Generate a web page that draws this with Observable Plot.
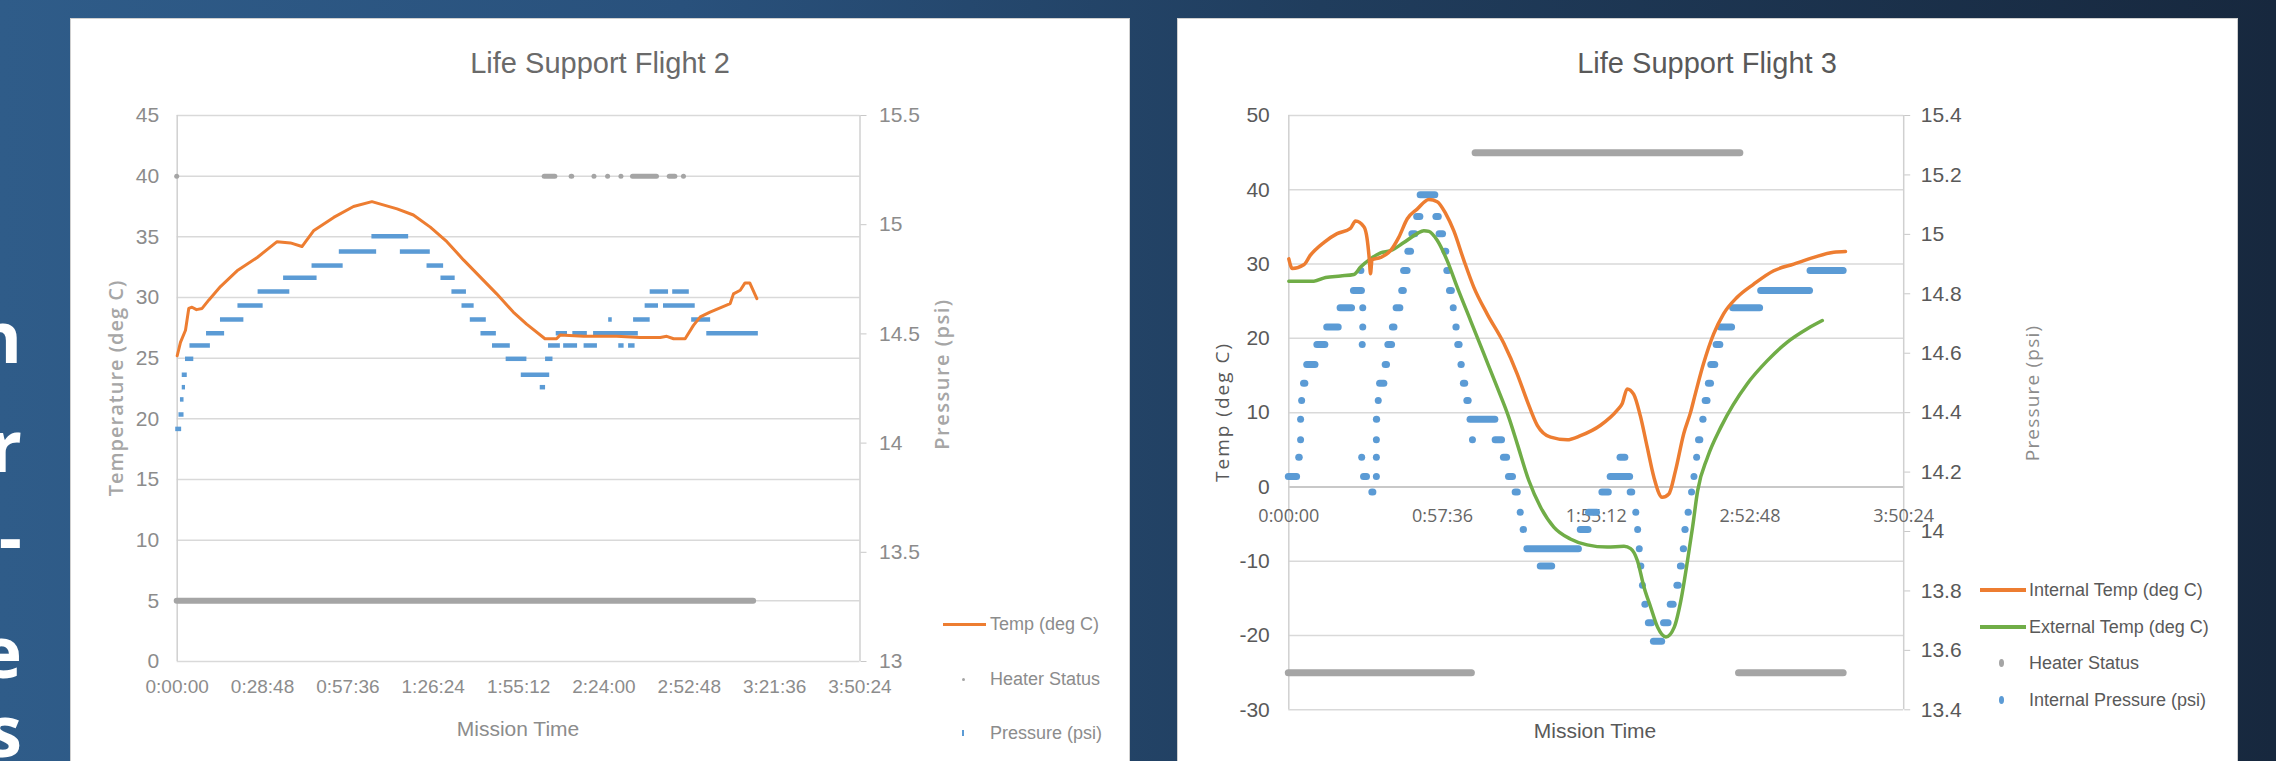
<!DOCTYPE html>
<html><head><meta charset="utf-8">
<script src="https://cdn.jsdelivr.net/npm/d3@7"></script>
<script src="https://cdn.jsdelivr.net/npm/@observablehq/plot@0.6"></script>
<style>
html,body{margin:0;padding:0;}
body{width:2276px;height:761px;overflow:hidden;position:relative;
 background:linear-gradient(90deg,#2f5c89 0%,#29517c 30%,#203d5d 58%,#17283e 100%);
 font-family:"Liberation Sans",Arial,sans-serif;}
.panel{position:absolute;background:#fff;border:1px solid #cfcfcf;box-sizing:border-box;}
.abs{position:absolute;white-space:nowrap;line-height:1;}
.c{transform:translate(-50%,-50%);}
.r{transform:translate(-50%,-50%) rotate(-90deg);}
.l{transform:translateY(-50%);}
.slide{position:absolute;left:-40px;width:62px;text-align:right;color:#fff;font-family:"Open Sans",sans-serif;font-weight:700;font-size:72px;line-height:1;}
.sw{position:absolute;}
</style></head><body>

<div class="slide" style="top:299px">n</div>
<div class="slide" style="top:408px">r</div>
<div class="slide" style="top:499px">-</div>
<div class="slide" style="top:614px">e</div>
<div class="slide" style="top:693px">s</div>

<div class="panel" style="left:70px;top:18px;width:1060px;height:760px"></div>
<div class="panel" style="left:1177px;top:18px;width:1061px;height:760px"></div>

<div id="c1" style="position:absolute;left:70px;top:18px"></div>
<div id="c2" style="position:absolute;left:1177px;top:18px"></div>

<div class="abs c" style="left:600px;top:63px;font-size:29px;color:#6a6a6a">Life Support Flight 2</div>
<div class="abs c" style="left:1707px;top:63px;font-size:29px;color:#595959">Life Support Flight 3</div>

<div class="abs r" style="left:116px;top:388px;font-family:'Open Sans';font-weight:600;font-size:20px;letter-spacing:1px;color:#a6a6a6">Temperature (deg C)</div>
<div class="abs r" style="left:942px;top:374px;font-family:'Open Sans';font-weight:600;font-size:20px;letter-spacing:1.5px;color:#a6a6a6">Pressure (psi)</div>
<div class="abs c" style="left:518px;top:728px;font-size:21px;color:#8c8c8c">Mission Time</div>

<div class="abs r" style="left:1222px;top:412px;font-family:'Open Sans';font-size:19px;letter-spacing:2px;color:#595959">Temp (deg C)</div>
<div class="abs r" style="left:2032px;top:393px;font-family:'Open Sans';font-size:19px;letter-spacing:1.2px;color:#8c8c8c">Pressure (psi)</div>
<div class="abs c" style="left:1595px;top:730px;font-size:21px;color:#595959">Mission Time</div>

<!-- legend flight 2 -->
<div class="sw" style="left:943px;top:622.5px;width:43px;height:3px;background:#ed7d31"></div>
<div class="abs l" style="left:990px;top:624px;font-size:18px;color:#8c8c8c">Temp (deg C)</div>
<div class="sw" style="left:961.5px;top:677.5px;width:3px;height:3px;border-radius:50%;background:#a5a5a5"></div>
<div class="abs l" style="left:990px;top:679px;font-size:18px;color:#8c8c8c">Heater Status</div>
<div class="sw" style="left:962px;top:730px;width:2px;height:6px;background:#5b9bd5"></div>
<div class="abs l" style="left:990px;top:733px;font-size:18px;color:#8c8c8c">Pressure (psi)</div>

<!-- legend flight 3 -->
<div class="sw" style="left:1980px;top:588px;width:46px;height:4px;background:#ed7d31"></div>
<div class="abs l" style="left:2029px;top:590px;font-size:18px;color:#595959">Internal Temp (deg C)</div>
<div class="sw" style="left:1980px;top:625px;width:46px;height:4px;background:#70ad47"></div>
<div class="abs l" style="left:2029px;top:627px;font-size:18px;color:#595959">External Temp (deg C)</div>
<div class="sw" style="left:1998.5px;top:659px;width:5px;height:8px;border-radius:50%;background:#a5a5a5"></div>
<div class="abs l" style="left:2029px;top:663px;font-size:18px;color:#595959">Heater Status</div>
<div class="sw" style="left:1998.5px;top:696px;width:5px;height:8px;border-radius:50%;background:#5b9bd5"></div>
<div class="abs l" style="left:2029px;top:700px;font-size:18px;color:#595959">Internal Pressure (psi)</div>

<script>
const FONT = '"Liberation Sans",Arial,sans-serif';
const orange = "#ed7d31", green = "#70ad47", blue = "#5b9bd5", gray = "#a5a5a5";

// ---------- Flight 2 (time in minutes) ----------
const f2XTicks = [0, 28.8, 57.6, 86.4, 115.2, 144, 172.8, 201.6, 230.4];
const f2XLabels = ["0:00:00","0:28:48","0:57:36","1:26:24","1:55:12","2:24:00","2:52:48","3:21:36","3:50:24"];
const f2TempTicks = [0,5,10,15,20,25,30,35,40,45];
const f2PsiTicks = [13,13.5,14,14.5,15,15.5];
const f2PsiLabels = ["13","13.5","14","14.5","15","15.5"];

const f2Temp = [[0,25.2],[1.1,26.3],[2.8,27.3],[3.9,29.1],[5,29.2],[6.5,29.0],[8.4,29.1],[10.7,29.8],[14.6,30.9],
 [20.2,32.2],[27,33.3],[33.7,34.6],[38.2,34.5],[42.1,34.2],[46,35.5],[52.8,36.6],[59.5,37.5],[65.7,37.9],
 [74.2,37.3],[79.7,36.8],[85.4,35.8],[91,34.6],[96.6,33.1],[102.2,31.7],[107.8,30.3],[113.4,28.8],[117.9,27.8],
 [124.1,26.6],[128,26.6],[129.2,26.9],[137.1,26.8],[148.3,26.8],[156.2,26.7],[163,26.7],[165.2,26.8],[167.5,26.6],
 [171.4,26.6],[174.2,27.7],[176.5,28.4],[179.8,28.8],[186.6,29.5],[187.7,30.3],[190,30.6],[191.6,31.2],[193.2,31.2],[195.6,29.9]];

// [start min, end min, psi]
const f2Pressure = [[-0.5,1.5,14.065],[0.6,2.3,14.131],[1.1,2.3,14.2],[1.7,2.8,14.256],[1.7,3.4,14.313],[2.8,5.6,14.386],
 [4.3,11.2,14.447],[9.9,16,14.503],[14.6,22.5,14.566],[20.5,29,14.63],[27.3,38,14.694],[35.9,47.2,14.757],
 [45.5,56,14.813],[54.7,67.3,14.877],[65.7,78.1,14.947],[75.3,85.4,14.877],[84.3,89.9,14.813],[89,93.8,14.757],
 [92.7,97.6,14.694],[96.1,100.2,14.63],[98.9,104.3,14.566],[102.5,107.7,14.503],[106.4,112.4,14.447],[111,118,14.386],
 [116.1,125.7,14.313],[122.5,124.3,14.256],[124.3,126.8,14.386],[125.3,129.3,14.447],[127.9,131.7,14.503],
 [130.4,135.1,14.447],[133.5,138.4,14.503],[137.3,141.8,14.447],[140.5,155.6,14.503],[145.6,146.8,14.566],
 [149,150.8,14.447],[152.3,154.5,14.447],[154,159.6,14.566],[157.9,162.4,14.63],[159.6,165.8,14.694],
 [164.1,174.8,14.63],[167.2,172.8,14.694],[173.6,180,14.566],[178.7,196.1,14.503]];

// heater status segments [start, end, status value]
const f2HeaterOff = [[0,194.5,5]];
const f2HeaterOn = [[0,0,40],[124,127.6,40],[133.1,133.3,40],[140.8,140.8,40],[145.4,145.4,40],[149.9,149.9,40],
 [153.8,161.9,40],[166.2,168.1,40],[171,171,40]];

// ---------- Flight 3 ----------
const f3XTicks = [0, 57.6, 115.2, 172.8, 230.4];
const f3XLabels = ["0:00:00","0:57:36","1:55:12","2:52:48","3:50:24"];
const f3TempTicks = [-30,-20,-10,0,10,20,30,40,50];
const f3PsiTicks = [13.4,13.6,13.8,14,14.2,14.4,14.6,14.8,15,15.2,15.4];
const f3PsiLabels = ["13.4","13.6","13.8","14","14.2","14.4","14.6","14.8","15","15.2","15.4"];

const f3Internal = [[0,30.7],[1.3,29.4],[5.6,29.9],[8.1,31.2],[13.1,32.9],[18.1,34.1],[23.1,34.8],[25,35.8],[28.2,35.0],
 [29.3,33.5],[30.2,30.5],[30.6,28.7],[31.2,30.6],[34.4,30.9],[38.1,31.8],[41.2,33.6],[44.4,36.1],[48.1,37.4],
 [52.5,38.7],[55.6,38.4],[58.8,36.8],[61.8,34.5],[65.6,30.5],[69.3,26.9],[74.3,23.3],[80.6,19.3],[85.6,15.2],
 [89.3,11.6],[93.1,8.3],[98.1,6.7],[104.3,6.35],[109.3,6.9],[116.8,8.3],[123,10.3],[124.9,11.2],[126.8,13.2],
 [129.2,12.5],[131.7,9.6],[134.3,5.35],[136.8,1.3],[139.9,-1.4],[142.4,-0.95],[144.9,2.2],[148,7.2],[150.5,10],
 [152.3,12.5],[155.4,16.6],[159.2,20.6],[162.9,23.3],[167.9,25.5],[174.2,27.3],[181.7,29.1],[189.2,30.0],
 [196.7,30.9],[204.2,31.6],[208.6,31.7]];

const f3External = [[0,27.7],[9.4,27.7],[13.8,28.2],[19.4,28.4],[24.4,28.6],[26.9,29.6],[30.6,30.7],[34.4,31.5],
 [38.1,31.8],[43.1,32.9],[48.1,34.1],[50.6,34.5],[52.5,34.4],[55.6,33.2],[59.3,30.5],[63.1,26.9],[68.1,22.4],
 [73.1,17.9],[78.1,13.4],[82.4,9.4],[85.6,5.8],[89.9,0.9],[94.3,-2.7],[99.3,-5.4],[105.5,-7.0],[111.8,-7.8],
 [119.3,-8.1],[125.6,-8.0],[128.1,-8.3],[130.6,-9.9],[133.1,-13.5],[135.6,-16.2],[138.2,-18.9],[141.3,-20.2],
 [144.4,-18.9],[146.9,-15.3],[149.4,-9.9],[151.3,-5.4],[153.2,-0.5],[156.9,4.0],[161.9,8.05],[171.8,13.9],
 [179.3,17.0],[186.8,19.5],[194.3,21.3],[199.9,22.4]];

const f3Heater = [[0,68.6,-25],[70,169.2,45],[168.7,207.9,-25]];

const f3Pressure = [[0,3.1,14.185],[3.9,4.1,14.25],[4.6,4.6,14.309],[4.6,4.6,14.378],[5,5,14.441],[5.7,6.2,14.499],
 [6.9,10,14.562],[10.7,13.7,14.629],[14.4,18.7,14.688],[19.4,23.7,14.753],[24.4,27.4,14.811],[27.2,27.2,14.878],
 [27.9,27.9,14.753],[27.9,27.9,14.688],[27.7,27.7,14.629],[27.5,27.5,14.25],[28.2,29.3,14.185],[31.3,31.7,14.133],
 [33,33,14.185],[33,33,14.25],[33,33,14.309],[33,33.1,14.378],[33.7,33.7,14.441],[34.2,35.8,14.499],
 [36.3,36.8,14.562],[37.3,38.7,14.629],[39,39.6,14.688],[40.4,41.8,14.753],[42.5,43.1,14.811],[43.2,44.5,14.878],
 [44.8,45.8,14.943],[46.3,47.4,15.002],[48.1,49.3,15.06],[49.4,54.9,15.133],[55.3,56.2,15.06],[56.5,57.8,15.002],
 [58.7,59,14.943],[59.4,59.9,14.878],[60.4,61.1,14.811],[61.8,61.8,14.753],[62.8,62.9,14.688],[63.5,64,14.629],
 [64.7,64.8,14.562],[65.6,66.1,14.499],[66.9,67.4,14.441],[68.1,77.4,14.378],[69,69,14.309],[77.5,79.9,14.309],
 [80.6,81.8,14.25],[82.5,84,14.185],[85,85.8,14.133],[86.9,86.9,14.065],[88,88.1,14.007],[89.4,108.7,13.942],
 [94.4,98.7,13.884],[109.4,112.3,14.007],[112.5,115.5,14.065],[117.5,119.9,14.133],[120.6,127.9,14.185],
 [124.3,126.1,14.25],[128.1,128.7,14.133],[130.2,130.2,14.065],[130.9,130.9,14.007],[131.5,131.5,13.942],
 [132.1,132.1,13.884],[132.7,132.7,13.819],[133.6,133.7,13.755],[134.9,136.1,13.693],[136.8,139.9,13.631],
 [140.6,142.3,13.693],[143.1,144.2,13.755],[145.6,146.1,13.819],[146.9,147.3,13.884],[148,148.1,13.942],
 [148.6,148.7,14.007],[149.8,149.9,14.065],[151.1,151.1,14.133],[152,152,14.185],[153,153,14.25],
 [153.7,154.2,14.309],[155.3,155.4,14.378],[156.2,156.9,14.441],[157.4,158.2,14.499],[158.3,159.8,14.562],
 [160.3,161.7,14.629],[161.8,166.1,14.688],[166.5,176.6,14.753],[177,195.3,14.811],[195.5,207.9,14.878]];

// secondary-axis alignment scales (pressure axis range -> temperature axis range)
const f2PsiToT = d3.scaleLinear([f2PsiTicks[0], f2PsiTicks[f2PsiTicks.length-1]], [f2TempTicks[0], f2TempTicks[f2TempTicks.length-1]]);
const f3PsiToT = d3.scaleLinear([f3PsiTicks[0], f3PsiTicks[f3PsiTicks.length-1]], [f3TempTicks[0], f3TempTicks[f3TempTicks.length-1]]);
const labelFor = (ticks, labels, map) => t => labels[ticks.findIndex(p => Math.abs(map(p) - t) < 1e-6)];

const ch1 = Plot.plot({
  width: 1060, height: 743,
  marginLeft: 106.7, marginRight: 270.5, marginTop: 97, marginBottom: 100,
  style: {background: "transparent", fontFamily: FONT, color: "#8c8c8c"},
  x: {domain: [0, 230.4]},
  y: {domain: [0, 45]},
  marks: [
    Plot.gridY(f2TempTicks, {stroke: "#d9d9d9", strokeOpacity: 1, strokeWidth: 1.5}),
    Plot.ruleX([0, 230.4], {stroke: "#d0d0d0", strokeWidth: 1.5}),
    Plot.axisY(f2TempTicks, {anchor: "left", tickSize: 0, tickPadding: 18, fontSize: 21, fill: "#8c8c8c", label: null,
      tickFormat: d => String(d)}),
    Plot.axisY(f2PsiTicks.map(f2PsiToT), {anchor: "right", tickSize: 6, tickPadding: 13, fontSize: 21,
      stroke: "#c8c8c8", fill: "#8c8c8c", label: null, tickFormat: labelFor(f2PsiTicks, f2PsiLabels, f2PsiToT)}),
    Plot.axisX(f2XTicks, {anchor: "bottom", tickSize: 0, tickPadding: 18, fontSize: 19, fill: "#8c8c8c", label: null,
      tickFormat: t => f2XLabels[f2XTicks.indexOf(t)]}),
    Plot.ruleY(f2HeaterOff, {x1: d => d[0], x2: d => d[1], y: d => d[2], stroke: gray, strokeWidth: 6, strokeLinecap: "round"}),
    Plot.ruleY(f2HeaterOn, {x1: d => d[0], x2: d => d[1], y: d => d[2], stroke: gray, strokeWidth: 5, strokeLinecap: "round"}),
    Plot.ruleY(f2Pressure, {x1: d => d[0], x2: d => d[1], y: d => f2PsiToT(d[2]), stroke: blue, strokeWidth: 4.5}),
    Plot.line(f2Temp, {x: d => d[0], y: d => d[1], stroke: orange, strokeWidth: 3, strokeLinejoin: "round"})
  ]
});
document.getElementById("c1").append(ch1);

const ch2 = Plot.plot({
  width: 1061, height: 743,
  marginLeft: 111.3, marginRight: 334.8, marginTop: 97, marginBottom: 51.7,
  style: {background: "transparent", fontFamily: FONT, color: "#595959"},
  x: {domain: [0, 230.4], axis: null},
  y: {domain: [-30, 50]},
  marks: [
    Plot.gridY(f3TempTicks, {stroke: "#d9d9d9", strokeOpacity: 1, strokeWidth: 1.5}),
    Plot.ruleY([0], {stroke: "#bfbfbf", strokeWidth: 1.5}),
    Plot.ruleX([0, 230.4], {stroke: "#d0d0d0", strokeWidth: 1.5}),
    Plot.axisY(f3TempTicks, {anchor: "left", tickSize: 0, tickPadding: 19, fontSize: 21, fill: "#595959", label: null,
      tickFormat: d => String(d)}),
    Plot.axisY(f3PsiTicks.map(f3PsiToT), {anchor: "right", tickSize: 6, tickPadding: 11, fontSize: 21,
      stroke: "#c8c8c8", fill: "#595959", label: null, tickFormat: labelFor(f3PsiTicks, f3PsiLabels, f3PsiToT)}),
    Plot.text(f3XTicks, {x: d => d, y: 0, dy: 29, text: d => f3XLabels[f3XTicks.indexOf(d)],
      fontSize: 18, fontFamily: "Open Sans", fill: "#666"}),
    Plot.ruleY(f3Heater, {x1: d => d[0], x2: d => d[1], y: d => d[2], stroke: gray, strokeWidth: 7, strokeLinecap: "round"}),
    Plot.ruleY(f3Pressure, {x1: d => d[0], x2: d => d[1], y: d => f3PsiToT(d[2]), stroke: blue, strokeWidth: 7, strokeLinecap: "round"}),
    Plot.line(f3External, {x: d => d[0], y: d => d[1], stroke: green, strokeWidth: 3.5, curve: "monotone-x"}),
    Plot.line(f3Internal, {x: d => d[0], y: d => d[1], stroke: orange, strokeWidth: 3.5, curve: "monotone-x"})
  ]
});
document.getElementById("c2").append(ch2);
</script>
</body></html>
